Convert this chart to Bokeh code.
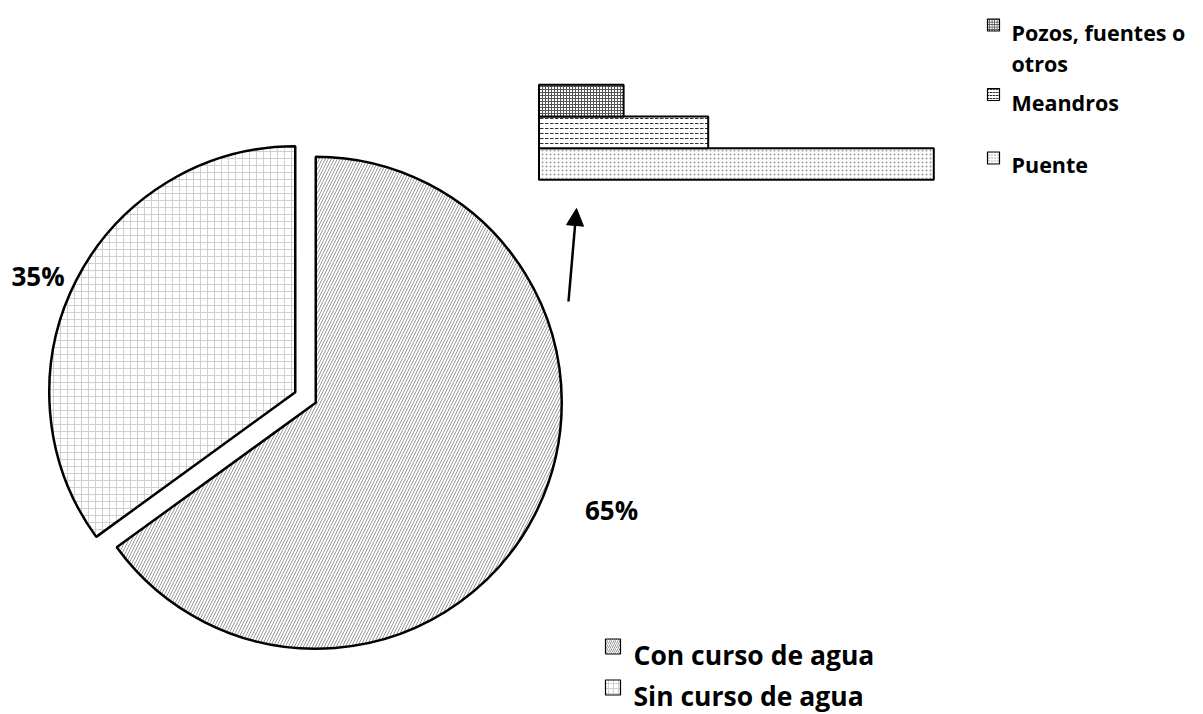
import textwrap
import numpy as np
from bokeh.plotting import figure
from bokeh.models import Range1d, Arrow, NormalHead, ColumnDataSource
from bokeh.core.properties import value
from bokeh.embed import file_html
from bokeh.resources import INLINE

# ---- data ----
pie_labels = ["Con curso de agua", "Sin curso de agua"]
pie_values = [65, 35]
bar_labels = ["Puente", "Meandros", "Pozos, fuentes o otros"]
bar_values = [14, 6, 3]

# ---- styles ----
pie_hatch = ["/", "+"]
pie_hatch_color = ["#9a9a9a", "#cfcfcf"]
pie_hatch_scale = [6, 7]
bar_hatch = [".", '"', "+"]
bar_hatch_color = ["#9a9a9a", "#333333", "#555555"]
bar_hatch_scale = [4, 5, 3]
FONT = value("Open Sans")

W, H = 1200, 714
p = figure(width=W, height=H, output_backend="svg", toolbar_location=None,
           x_range=Range1d(0, W), y_range=Range1d(0, H),
           x_axis_type=None, y_axis_type=None, min_border=0)
p.grid.visible = False
p.outline_line_color = None


def sx(x):
    return x


def sy(y):
    return H - y


# ---- pie ----
fr = np.array(pie_values, dtype=float) / sum(pie_values)
cum = np.concatenate([[0.0], np.cumsum(fr)])
starts = np.pi / 2 - 2 * np.pi * cum[:-1]
ends = np.pi / 2 - 2 * np.pi * cum[1:]
mid = (starts + ends) / 2
explode = 11.5
cx0, cy0 = sx(305), sy(397)
R = 246
pie_src = ColumnDataSource(dict(
    x=cx0 + explode * np.cos(mid), y=cy0 + explode * np.sin(mid),
    start=starts, end=ends, hatch=pie_hatch, hcol=pie_hatch_color,
    hscale=pie_hatch_scale, label=pie_labels))
p.wedge(x="x", y="y", radius=R, start_angle="start", end_angle="end",
        direction="clock", source=pie_src, fill_color="white",
        line_color="black", line_width=2.5,
        hatch_pattern="hatch", hatch_color="hcol", hatch_scale="hscale",
        hatch_weight=1)

# percent labels
pct_x = [sx(611), sx(37.5)]
pct_y = [sy(509), sy(275)]
p.text(x=pct_x, y=pct_y, text=[f"{v}%" for v in pie_values],
       text_font=FONT, text_font_style="bold", text_font_size="26px",
       text_align="center", text_baseline="alphabetic", text_color="black")

# ---- bars (own scales via extra ranges) ----
px_per_unit = 28.2
bx0 = sx(538.5)
p.extra_x_ranges = {"bx": Range1d(-bx0 / px_per_unit, (W - bx0) / px_per_unit)}
bar_h = 31.7
by0 = sy(163.5)
p.extra_y_ranges = {"by": Range1d(-by0 / bar_h, (H - by0) / bar_h)}
bar_src = ColumnDataSource(dict(
    y=list(range(len(bar_values))), right=bar_values,
    hatch=bar_hatch, hcol=bar_hatch_color, hscale=bar_hatch_scale))
p.hbar(y="y", left=0, right="right", height=1, source=bar_src,
       x_range_name="bx", y_range_name="by", fill_color="white",
       line_color="black", line_width=2,
       hatch_pattern="hatch", hatch_color="hcol", hatch_scale="hscale",
       hatch_weight=1)

# ---- arrow ----
p.add_layout(Arrow(end=NormalHead(size=17, fill_color="black", line_color="black"),
                   x_start=sx(568), y_start=sy(301), x_end=sx(576), y_end=sy(208),
                   line_width=2.5, line_color="black"))

# ---- bottom legend (pie) ----
leg_y = [646, 687]
leg_base = [654, 695]
p.rect(x=[sx(612.5)] * 2, y=[sy(v) for v in leg_y], width=15, height=15,
       fill_color="white", line_color="black", line_width=1.2,
       hatch_pattern=pie_hatch, hatch_color=pie_hatch_color,
       hatch_scale=[4, 5], hatch_weight=1)
p.text(x=[sx(633)] * 2, y=[sy(v) for v in leg_base], text=pie_labels,
       text_font=FONT, text_font_style="bold", text_font_size="26.5px",
       text_align="left", text_baseline="alphabetic", text_color="black")

# ---- right legend (bars), top to bottom ----
order = list(range(len(bar_labels)))[::-1]
sw_y = [24.5, 94, 157.5]
first_base = [32, 101.5, 163.5]
p.rect(x=[sx(993)] * 3, y=[sy(v) for v in sw_y], width=12, height=12,
       fill_color="white", line_color="black", line_width=1.2,
       hatch_pattern=[bar_hatch[i] for i in order],
       hatch_color=[bar_hatch_color[i] for i in order],
       hatch_scale=[2.5, 3, 3], hatch_weight=1)
tx, ty, tt = [], [], []
for k, i in enumerate(order):
    for j, line in enumerate(textwrap.wrap(bar_labels[i], 16)):
        tx.append(sx(1011))
        ty.append(sy(first_base[k] + 31 * j))
        tt.append(line)
p.text(x=tx, y=ty, text=tt, text_font=FONT, text_font_style="bold",
       text_font_size="21.5px", text_align="left", text_baseline="alphabetic",
       text_color="black")

open("out.html", "w").write(file_html(p, INLINE))
